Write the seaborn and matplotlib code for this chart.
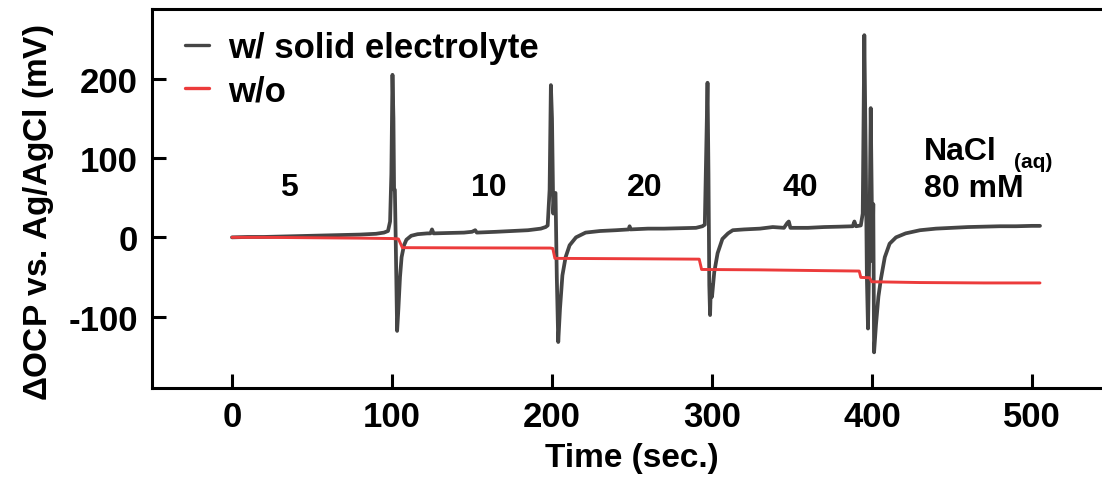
import matplotlib
matplotlib.use("Agg")
import matplotlib.pyplot as plt
import seaborn as sns
import pandas as pd

# ---- data ----
t_solid = [0, 10, 20, 30, 40, 50, 60, 70, 80, 90, 95, 97.5, 98.8, 99.6, 100.3, 100.9, 101.3, 101.8,
           102.3, 103.2, 104, 105, 106, 107.5, 109, 112, 116, 122, 124, 125, 126, 135, 145, 150,
           152, 153, 165, 175, 185, 193, 196, 197.3, 198.5, 199.3, 200, 200.8, 201.5, 202.2, 203,
           203.9, 205, 206.5, 208.5, 211, 215, 221, 230, 240, 248, 248.5, 249, 260, 270, 280, 290,
           294, 295.5, 296.5, 297.2, 297.8, 298.3, 298.8, 299.3, 300, 301.4, 303.5, 306.5, 310,
           313, 320, 330, 338, 345, 347, 348, 349, 360, 370, 380, 388, 389, 390, 393, 394.2, 395.2,
           396.1, 396.8, 397.5, 398.3, 399.2, 399.9, 400.3, 400.8, 401.3, 402.5, 404, 405.6, 408,
           411, 415, 421, 430, 440, 450, 460, 470, 480, 490, 500, 505]
v_solid = [0, 0.5, 0.5, 1, 1.5, 2, 2.5, 3, 3.5, 4.5, 6, 8, 20, 80, 205, 150, 60, 60,
           0, -118, -90, -50, -25, -10, -3, 2, 4, 5, 5, 10, 5, 5.5, 6, 7,
           9, 6, 7, 8, 9, 11, 13, 15, 60, 192, 150, 30, 55, 56, -50,
           -132, -90, -48, -25, -10, 0, 6, 8, 9, 10, 14, 10, 11, 11, 11.5, 12,
           14, 16, 120, 195, 80, -60, -98, -60, -75, -44, -20, -2, 5,
           9, 10, 11, 13, 12, 18, 20, 12, 12, 13, 13.5, 14, 20, 14, 15, 30, 255,
           100, -50, -115, -20, 163, 40, -30, 42, -145, -110, -75, -52, -25,
           -8, 0, 5, 9, 11, 12, 13, 13.5, 14, 14, 14.5, 14.5]

t_without = [0, 20, 50, 80, 100, 104, 106.5, 150, 199, 200.5, 201.8, 250, 292, 293.5, 330, 370,
             392, 393, 398.5, 399.8, 430, 470, 505]
v_without = [0, 0, -0.5, -1, -1.5, -2, -13, -13.3, -13.5, -14, -26.5, -27, -27.5, -40.5, -41, -42,
             -42.5, -50.5, -51, -56, -57, -57.5, -57.5]

series_names = ["w/ solid electrolyte", "w/o"]
conc_labels = ["5", "10", "20", "40"]
conc_t = [35.5, 160.5, 258, 355]
conc_v = [64, 64, 64, 64]

df_solid = pd.DataFrame({"Time": t_solid, "OCP": v_solid})
df_without = pd.DataFrame({"Time": t_without, "OCP": v_without})

# ---- style ----
sns.set_theme(style="ticks")
plt.rcParams["font.family"] = ["Liberation Sans", "DejaVu Sans"]
plt.rcParams["font.weight"] = "bold"
plt.rcParams["mathtext.fontset"] = "custom"
plt.rcParams["mathtext.rm"] = "Liberation Sans"
plt.rcParams["axes.unicode_minus"] = False
plt.rcParams["text.color"] = "black"
plt.rcParams["axes.labelcolor"] = "black"

fig = plt.figure(figsize=(11.02, 4.89), dpi=100)
ax = fig.add_axes([152 / 1102, 100 / 489, 960 / 1102, 379 / 489])

sns.lineplot(data=df_solid, x="Time", y="OCP", ax=ax, color="#454545", lw=2.7,
             label=series_names[0], estimator=None, sort=False)
sns.lineplot(data=df_without, x="Time", y="OCP", ax=ax, color="#ec3b3b", lw=2.1,
             label=series_names[1], estimator=None, sort=False)

ax.set_xlim(-50, 550)
ax.set_ylim(-190, 288)
ax.set_xticks([0, 100, 200, 300, 400, 500])
ax.set_yticks([-100, 0, 100, 200])

for s in ["left", "bottom", "top"]:
    ax.spines[s].set_linewidth(2.2)
    ax.spines[s].set_color("black")
ax.spines["right"].set_visible(False)
ax.tick_params(direction="in", length=10, width=2.2, labelsize=25, pad=9,
               colors="black", labelcolor="black")
ax.tick_params(axis="y", pad=10)
ax.tick_params(top=False, right=False)
for lab in ax.get_xticklabels() + ax.get_yticklabels():
    lab.set_fontweight("bold")

ax.set_xlabel("Time (sec.)", fontsize=24, fontweight="bold", labelpad=6, color="black")
ax.set_ylabel(r"$\mathrm{\Delta}$OCP vs. Ag/AgCl (mV)", fontsize=24, fontweight="bold",
              labelpad=8, color="black")
ax.yaxis.set_label_coords(-0.1, 0.465)

leg = ax.legend(loc="upper left", bbox_to_anchor=(0.034, 0.942), frameon=False,
                fontsize=25, handlelength=0.7, handletextpad=0.55, labelspacing=0.3,
                borderaxespad=0, borderpad=0)
for line in leg.get_lines():
    line.set_linewidth(2.4)
for txt in leg.get_texts():
    txt.set_color("black")

for lab, x, y in zip(conc_labels, conc_t, conc_v):
    ax.text(x, y, lab, fontsize=23, fontweight="bold", ha="center", va="center", color="black")
ax.text(432.5, 99, "NaCl", fontsize=23, fontweight="bold", ha="left", va="baseline", color="black")
ax.text(489, 89, "(aq)", fontsize=15, fontweight="bold", ha="left", va="baseline", color="black")
ax.text(432.5, 52.5, "80 mM", fontsize=23, fontweight="bold", ha="left", va="baseline", color="black")

fig.savefig("out.png", dpi=100)
